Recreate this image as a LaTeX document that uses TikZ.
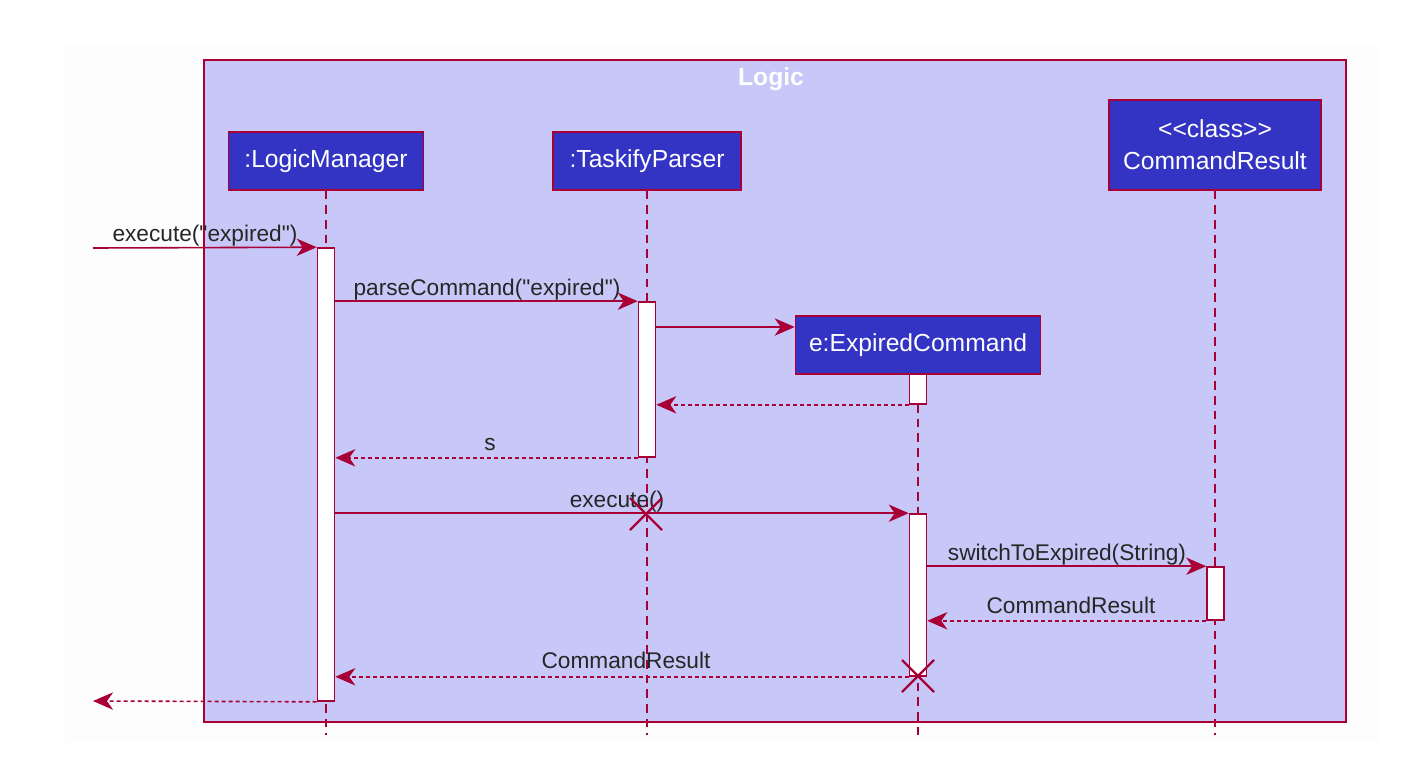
\documentclass[tikz,border=0pt]{standalone}
\usepackage{fontspec}
\setmainfont{Liberation Sans}[Ligatures=TeXOff]
\usetikzlibrary{arrows.meta}
\definecolor{crim}{RGB}{168,0,54}
\definecolor{framefill}{RGB}{200,200,248}
\definecolor{partfill}{RGB}{51,51,196}
\definecolor{panel}{RGB}{253,253,253}
\begin{document}
\begin{tikzpicture}[x=0.75pt,y=-0.75pt,
  participant/.style={draw=crim, line width=1.2pt, fill=partfill, text=white,
    font=\fontsize{18.5}{24}\selectfont, inner sep=0pt, align=center},
  actbox/.style={draw=crim, fill=white, line width=1.2pt, inner sep=0pt, minimum width=12.75pt},
  lifeline/.style={draw=crim, line width=1.3pt, dash pattern=on 6.5pt off 4.5pt},
  msg/.style={draw=crim, line width=1.2pt, -{Stealth[length=15pt,width=13pt,inset=4.5pt]}},
  ret/.style={msg, dash pattern=on 3pt off 2.25pt},
  lbl/.style={font=\fontsize{17}{20}\selectfont, anchor=base, text=black!85},
  xmark/.style={draw=crim, line width=1.7pt}]
\useasboundingbox (0,0) rectangle (1414,768);
\fill[panel] (65,45) rectangle (1380,742);
% frame
\draw[crim, line width=1.2pt, fill=framefill] (204,60) rectangle (1346,722);
\node[font=\bfseries\fontsize{18.5}{22}\selectfont, text=white] (title) at (771,79) {Logic};
% participants
\node[participant, minimum width=146.25pt, minimum height=43.5pt] (lm) at (326,161) {:LogicManager};
\node[participant, minimum width=141pt, minimum height=43.5pt] (tp) at (647,161) {:TaskifyParser};
\node[participant, minimum width=159pt, minimum height=67.5pt] (cr) at (1215,145) {<{}<class>{}>\\CommandResult};
\node[participant, minimum width=183.75pt, minimum height=43.5pt] (ec) at (918,345) {e:ExpiredCommand};
\coordinate (bot) at (0,735);
% lifelines
\draw[lifeline] (lm.south) -- (lm.south |- bot);
\draw[lifeline] (tp.south) -- (tp.south |- bot);
\draw[lifeline] (cr.south) -- (cr.south |- bot);
\draw[lifeline] (ec.south) -- (ec.south |- bot);
% activations
\node[actbox, minimum height=339.75pt] (actLM) at (326,474.5) {};
\node[actbox, minimum height=116.25pt] (actTP) at (647,379.5) {};
\node[actbox, minimum height=22.5pt] (ecA1) at (918,389) {};
\node[actbox, minimum height=121.5pt] (ecA2) at (918,595) {};
\node[actbox, minimum height=39.75pt] (crA) at (1215.5,593.5) {};
% endpoints
\coordinate (in1) at (93,248);
\coordinate (out1) at (93,701);
\coordinate (cre) at (0,327);
% messages
\draw[msg] (in1) -- (actLM.north west);
\node[lbl] (l1) at (205,241) {execute("expired")};
\draw[msg] (actLM.east |- actTP.north) -- (actTP.north west);
\node[lbl] (l2) at (487,295) {parseCommand("expired")};
\draw[msg] (actTP.east |- cre) -- (ec.west |- cre);
\draw[ret] (ecA1.south west) -- (actTP.east |- ecA1.south);
\draw[ret] (actTP.south west) -- (actLM.east |- actTP.south);
\node[lbl] (l3) at (490,450) {s};
\draw[msg] (actLM.east |- ecA2.north) -- (ecA2.north west);
\node[lbl] (l4) at (617,507) {execute()};
\draw[msg] (ecA2.east |- crA.north) -- (crA.north west);
\node[lbl] (l5) at (1067,560) {switchToExpired(String)};
\draw[ret] (crA.south west) -- (ecA2.east |- crA.south);
\node[lbl] (l6) at (1071,613) {CommandResult};
\draw[ret] (ecA2.south west) -- (actLM.east |- ecA2.south);
\node[lbl] (l7) at (626,668) {CommandResult};
\draw[ret] (actLM.south west) -- (out1);
% destroy marks
\draw[xmark] (630,498) -- (662,530) (630,530) -- (662,498);
\draw[xmark] (902,660) -- (934,692) (902,692) -- (934,660);
\end{tikzpicture}
\end{document}
